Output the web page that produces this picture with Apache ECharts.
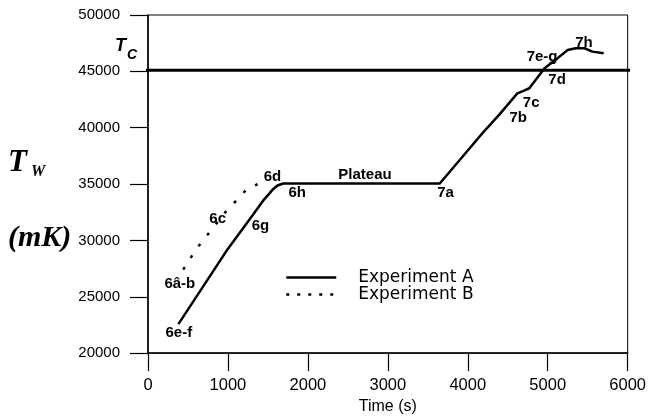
<!DOCTYPE html>
<html>
<head>
<meta charset="utf-8">
<script src="https://cdn.jsdelivr.net/npm/echarts@6/dist/echarts.min.js"></script>
<style>html,body{margin:0;padding:0;background:#fff}#c{width:649px;height:420px}</style>
</head>
<body>
<div id="c"></div>
<script>
// ---- data ----
var A_TIME = [380, 980, 1270, 1435, 1560, 1620, 1690, 3650, 4170, 4400, 4620, 4690, 4770, 4960, 5120, 5250, 5350, 5460, 5560, 5700];
var A_TEMP = [22570, 29050, 31860, 33480, 34510, 34870, 35050, 35050, 39400, 41200, 43050, 43250, 43500, 45270, 46150, 46900, 47050, 47050, 46750, 46600];
var B_TIME = [440, 600, 800, 960, 1100, 1230, 1370];
var B_TEMP = [27400, 29200, 31000, 32450, 33500, 34500, 35000];
var TC_VALUE = 45100;
var TC_TIME = [-350, 6180];
var X_TICKS = [0, 1000, 2000, 3000, 4000, 5000, 6000];
var Y_TICKS = [20000, 25000, 30000, 35000, 40000, 45000, 50000];
var LABEL_NAMES = ['6e-f', '6â-b', '6c', '6g', '6d', '6h', 'Plateau', '7a', '7b', '7c', '7d', '7e-g', '7h'];
var LABEL_TIME  = [386, 398, 871, 1407, 1556, 1867, 2714, 3722, 4631, 4793, 5117, 4930, 5453];
var LABEL_TEMP  = [21770, 26110, 31950, 31330, 35660, 34250, 35840, 34250, 40890, 42210, 44250, 46280, 47520];
var SERIES_NAMES = ['Experiment A', 'Experiment B'];

function zip(a, b) { return a.map(function (v, i) { return [v, b[i]]; }); }

var chart = echarts.init(document.getElementById('c'));
var sans = 'Liberation Sans, Arial, sans-serif';
var serif = 'Liberation Serif, Times New Roman, serif';

chart.setOption({
  animation: false,
  backgroundColor: '#fff',
  grid: { left: 148, right: 19, top: 15, bottom: 66, show: true, borderColor: '#000', borderWidth: 1, backgroundColor: 'transparent' },
  xAxis: {
    type: 'value', min: X_TICKS[0], max: X_TICKS[X_TICKS.length - 1], interval: 1000,
    name: 'Time (s)', nameLocation: 'middle', nameGap: 44,
    nameTextStyle: { color: '#000', fontSize: 16, fontFamily: sans },
    axisLine: { lineStyle: { color: '#000', width: 1.5 } },
    axisTick: { length: 18, lineStyle: { color: '#000', width: 1.2 } },
    axisLabel: { color: '#000', fontSize: 16.5, fontFamily: sans, margin: 24, formatter: function (v) { return String(v); } },
    splitLine: { show: false }
  },
  yAxis: {
    type: 'value', min: Y_TICKS[0], max: Y_TICKS[Y_TICKS.length - 1], interval: 5000,
    axisLine: { show: true, lineStyle: { color: '#000', width: 1.5 } },
    axisTick: { show: true, length: 18, lineStyle: { color: '#000', width: 1.2 } },
    axisLabel: { color: '#000', fontSize: 15, fontFamily: sans, margin: 28, formatter: function (v) { return String(v); } },
    splitLine: { show: false }
  },
  legend: {
    orient: 'vertical', left: 285, top: 269, padding: 0, itemGap: 0,
    itemWidth: 50, itemHeight: 14,
    textStyle: { color: '#000', fontSize: 17, fontFamily: 'DejaVu Sans, sans-serif', lineHeight: 17, padding: [0, 0, 0, 17] },
    data: [
      { name: SERIES_NAMES[0], itemStyle: { opacity: 0 }, lineStyle: { color: '#000', width: 2.5, type: 'solid' } },
      { name: SERIES_NAMES[1], itemStyle: { opacity: 0 }, lineStyle: { color: '#000', width: 2.5, type: [3, 8] } }
    ]
  },
  series: [
    {
      name: SERIES_NAMES[0], type: 'line', data: zip(A_TIME, A_TEMP), symbol: 'none',
      lineStyle: { color: '#000', width: 2.5 }, itemStyle: { color: '#000' }
    },
    {
      name: SERIES_NAMES[1], type: 'line', data: zip(B_TIME, B_TEMP), symbol: 'none',
      lineStyle: { color: '#000', width: 2.5, type: [3, 11] }, itemStyle: { color: '#000' }
    },
    {
      name: 'Tc', type: 'line', data: TC_TIME.map(function (t) { return [t, TC_VALUE]; }),
      symbol: 'none', clip: false, lineStyle: { color: '#000', width: 3 }, z: 5
    },
    {
      name: 'labels', type: 'scatter', symbolSize: 0, z: 10, itemStyle: { color: '#000' },
      data: LABEL_NAMES.map(function (n, i) { return { name: n, value: [LABEL_TIME[i], LABEL_TEMP[i]] }; }),
      label: {
        show: true, position: 'inside', formatter: function (p) { return p.name; },
        color: '#000', fontSize: 15, fontWeight: 'bold', fontFamily: sans, textBorderWidth: 0, opacity: 1
      }
    }
  ],
  graphic: [
    { type: 'text', left: 115, top: 37, style: { text: 'T', font: 'italic bold 18px ' + sans, fill: '#000' } },
    { type: 'text', left: 127, top: 48, style: { text: 'C', font: 'italic bold 14px ' + sans, fill: '#000' } },
    { type: 'text', left: 8, top: 147, style: { text: 'T', font: 'italic bold 31px ' + serif, fill: '#000' } },
    { type: 'text', left: 31, top: 164, style: { text: 'W', font: 'italic bold 16px ' + serif, fill: '#000' } },
    { type: 'text', left: 8, top: 223, style: { text: '(mK)', font: 'italic bold 30px ' + serif, fill: '#000' } }
  ]
});
</script>
</body>
</html>
